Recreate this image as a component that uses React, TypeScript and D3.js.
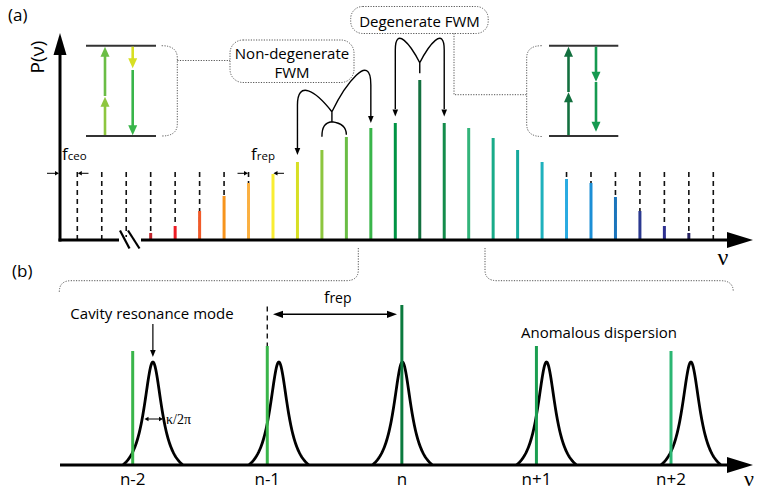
import * as d3 from "d3"

// panel (a): comb lines, index 0..26
const combPower = [0, 0, 0, 7, 14, 29, 44, 57, 66, 78, 90, 103, 112, 117, 160, 117, 112, 102, 90, 78, 61, 57, 43, 29, 14, 7, 0]
const combColors = [
  "none", "none", "none", "#c1272d", "#ed1c24", "#f15a29", "#f7941d", "#fbb040", "#f9ed32",
  "#d7df23", "#8dc63f", "#6abd45", "#39b54a", "#009444", "#13703f", "#138c4b", "#33b47a",
  "#19ab89", "#15a99c", "#1fb1bd", "#29abe2", "#1c8fd6", "#1b75bc", "#2b3990", "#2e3192",
  "#262262", "none",
]
const dashedModes = [0, 1, 2, 3, 4, 5, 6, 7, 20, 21, 22, 23, 24, 25, 26]

// panel (b): resonances around mode n
const modeOffset = [-2, -1, 0, 1, 2]
const modeLabels = ["n-2", "n-1", "n", "n+1", "n+2"]
const resonanceShift = [0.15, 0.086, 0.004, 0.075, 0.148]
const linePower = [114, 119, 160, 119, 114]
const lineColors = ["#39b54a", "#39b54a", "#0b7a3e", "#1a9e50", "#2bb673"]
const resonanceHeight = 103

const W = 757
const H = 491
const font = "'Open Sans', sans-serif"
const nuFont = "'Liberation Serif', serif"

function head(x: number, y: number, dir: string, len = 9, half = 4) {
  let pts: number[][] = []
  if (dir === "up") pts = [[x, y], [x - half, y + len], [x + half, y + len]]
  if (dir === "down") pts = [[x, y], [x - half, y - len], [x + half, y - len]]
  if (dir === "left") pts = [[x, y], [x + len, y - half], [x + len, y + half]]
  if (dir === "right") pts = [[x, y], [x - len, y - half], [x - len, y + half]]
  return pts.map((p) => p.join(",")).join(" ")
}

function VArrow({ x, y0, y1, color, w = 2.6 }: { x: number; y0: number; y1: number; color: string; w?: number }) {
  // arrow from y0 to y1 with head at y1
  const dir = y1 < y0 ? "up" : "down"
  const base = dir === "up" ? y1 + 9 : y1 - 9
  return (
    <g>
      <line x1={x} x2={x} y1={y0} y2={base} stroke={color} strokeWidth={w} />
      <polygon points={head(x, y1, dir, 10, 4.5)} fill={color} />
    </g>
  )
}

export default function App() {
  const x = d3.scaleLinear().domain([0, 26]).range([77.3, 713.3])
  const y = d3.scaleLinear().domain([0, 160]).range([240, 80])
  const dashTop = 172

  const xb = d3.scaleLinear().domain([-2, 2]).range([132.7, 671])
  const yb = d3.scaleLinear().domain([0, 160]).range([465, 305])

  // Lorentzian resonance profile, clipped to baseline
  const gamma = 0.082
  const halfBase = 0.223
  const L = (u: number) => 1 / (1 + (u / gamma) ** 2)
  const L0 = L(halfBase)
  const profile = d3.range(-halfBase, halfBase + 0.0001, 0.004)
  const line = d3.line<number[]>().x((d) => d[0]).y((d) => d[1])

  const dotted = { fill: "none", stroke: "#555", strokeWidth: 1, strokeDasharray: "1.2,1.4" }

  // FWM curves (non-degenerate)
  const nd = d3.path()
  const jx = x(10) + 10
  const jy = 111.7
  nd.moveTo(jx, jy)
  nd.bezierCurveTo(jx - 17, 90, x(9), 80, x(9), 105)
  nd.lineTo(x(9), y(combPower[9]) - 11)
  nd.moveTo(jx, jy)
  nd.bezierCurveTo(jx + 13, 85, x(12), 50, x(12), 85)
  nd.lineTo(x(12), y(combPower[12]) - 12)
  nd.moveTo(jx, jy)
  nd.lineTo(jx, jy + 10)
  nd.bezierCurveTo(jx - 7, jy + 11, x(10), jy + 15, x(10), jy + 25)
  nd.moveTo(jx, jy + 10)
  nd.bezierCurveTo(jx + 8, jy + 11, x(11), jy + 14, x(11), jy + 23)

  const dg = d3.path()
  const dx = x(14)
  const dy = 62.7
  dg.moveTo(dx, dy)
  dg.bezierCurveTo(dx - 9, 45, x(13), 25, x(13), 50)
  dg.lineTo(x(13), y(combPower[13]) - 14)
  dg.moveTo(dx, dy)
  dg.bezierCurveTo(dx + 9, 45, x(15), 25, x(15), 50)
  dg.lineTo(x(15), y(combPower[15]) - 14)
  dg.moveTo(dx, dy)
  dg.lineTo(dx, 73.3)

  return (
    <svg width={W} height={H} style={{ position: "absolute", left: 0, top: 0 }} fontFamily={font}>
      <rect width={W} height={H} fill="#fff" />

      {/* ---------- panel (a) ---------- */}
      <text x={8} y={21} fontSize={17}>(a)</text>
      <text transform="translate(44,57) rotate(-90)" textAnchor="middle" fontSize={19}>P(ν)</text>

      {/* dashed guides */}
      {dashedModes.map((i) => (
        <line key={"d" + i} x1={x(i)} x2={x(i)} y1={dashTop} y2={240} stroke="#111" strokeWidth={1.6} strokeDasharray="5,4" />
      ))}
      {/* comb lines */}
      {combPower.map((p, i) =>
        p > 0 ? <line key={"c" + i} x1={x(i)} x2={x(i)} y1={y(p)} y2={240} stroke={combColors[i]} strokeWidth={3} /> : null
      )}

      {/* axes */}
      <line x1={60} x2={60} y1={241.5} y2={52} stroke="#000" strokeWidth={3} />
      <polygon points={head(60, 33, "up", 22, 6.5)} fill="#000" />
      <line x1={58.5} x2={732} y1={240} y2={240} stroke="#000" strokeWidth={3} />
      <polygon points={head(753, 240, "right", 26, 8)} fill="#000" />
      <rect x={119} y={237} width={22} height={6} fill="#fff" />
      <line x1={120} x2={129.5} y1={230.5} y2={248.5} stroke="#000" strokeWidth={2.2} />
      <line x1={128} x2={139.5} y1={230.5} y2={248.5} stroke="#000" strokeWidth={2.2} />
      <text x={723} y={265} textAnchor="middle" fontSize={24} fontFamily={nuFont}>ν</text>

      {/* f_ceo and f_rep */}
      <line x1={47} x2={55} y1={173.3} y2={173.3} stroke="#000" strokeWidth={1} />
      <polygon points={head(59, 173.3, "right", 4, 2.2)} fill="#000" />
      <line x1={x(0) + 4} x2={88.5} y1={173.3} y2={173.3} stroke="#000" strokeWidth={1} />
      <polygon points={head(x(0) + 0.5, 173.3, "left", 4, 2.2)} fill="#000" />
      <text x={62} y={160} fontSize={17}>f<tspan fontSize={11.5}>ceo</tspan></text>

      <line x1={x(7) - 11} x2={x(7) - 4} y1={173.3} y2={173.3} stroke="#000" strokeWidth={1} />
      <polygon points={head(x(7) - 0.5, 173.3, "right", 4, 2.2)} fill="#000" />
      <line x1={x(8) + 4} x2={x(8) + 11} y1={173.3} y2={173.3} stroke="#000" strokeWidth={1} />
      <polygon points={head(x(8) + 0.5, 173.3, "left", 4, 2.2)} fill="#000" />
      <text x={251} y={160} fontSize={17}>f<tspan fontSize={11.5}>rep</tspan></text>

      {/* left energy diagram */}
      <line x1={86} x2={156} y1={45.7} y2={45.7} stroke="#333" strokeWidth={2} />
      <line x1={86} x2={156} y1={136} y2={136} stroke="#333" strokeWidth={2} />
      <VArrow x={105} y0={135} y1={96.7} color="#8dc63f" />
      <VArrow x={105} y0={96} y1={46.7} color="#6abd45" />
      <VArrow x={132.7} y0={46.7} y1={68.3} color="#d7df23" />
      <VArrow x={132.7} y0={70} y1={135.3} color="#39b54a" />
      <path d="M161.7,45.7 Q177.3,45.7 177.3,58 L177.3,124 Q177.3,136 161.7,136" {...dotted} />
      <path d="M177.3,60.5 L230,60.5" {...dotted} />

      {/* right energy diagram */}
      <line x1={549} x2={618.3} y1={45.7} y2={45.7} stroke="#333" strokeWidth={2} />
      <line x1={549} x2={618.3} y1={136} y2={136} stroke="#333" strokeWidth={2} />
      <VArrow x={568.5} y0={135} y1={92.3} color="#13703f" />
      <VArrow x={568.5} y0={92} y1={46.7} color="#13703f" />
      <VArrow x={596} y0={46.7} y1={81.7} color="#159a50" />
      <VArrow x={596} y0={82} y1={131.7} color="#159a50" />
      <path d="M541.7,45.7 Q526.7,45.7 526.7,58 L526.7,124 Q526.7,136.5 541.7,136.5" {...dotted} />
      <path d="M454,33.3 L454,94.7 L526.7,94.7" {...dotted} />

      {/* FWM boxes */}
      <rect x={230} y={40} width={124} height={42.5} rx={13} {...dotted} />
      <text x={292} y={59} textAnchor="middle" fontSize={15}>Non-degenerate</text>
      <text x={292} y={78} textAnchor="middle" fontSize={15}>FWM</text>
      <rect x={350.7} y={6.5} width={137.5} height={27} rx={12} {...dotted} />
      <text x={419.5} y={26.5} textAnchor="middle" fontSize={15}>Degenerate FWM</text>

      {/* FWM curves */}
      <path d={nd.toString()} fill="none" stroke="#000" strokeWidth={1.4} />
      <polygon points={head(x(9), y(combPower[9]) - 7, "down", 7, 2.8)} fill="#000" />
      <polygon points={head(x(12), y(combPower[12]) - 5, "down", 7, 2.8)} fill="#000" />
      <path d={dg.toString()} fill="none" stroke="#000" strokeWidth={1.4} />
      <polygon points={head(x(13), y(combPower[13]) - 6.5, "down", 7, 2.8)} fill="#000" />
      <polygon points={head(x(15), y(combPower[15]) - 6.5, "down", 7, 2.8)} fill="#000" />

      {/* brackets to panel (b) */}
      <path d="M358.3,248 L358.3,270 Q358.3,280.7 346,280.7 L71,280.7 Q59.3,280.7 59.3,292" {...dotted} />
      <path d="M485,248 L485,270 Q485,280.7 497,280.7 L721,280.7 Q733.3,280.7 733.3,292" {...dotted} />

      {/* ---------- panel (b) ---------- */}
      <text x={12} y={277} fontSize={17}>(b)</text>

      {/* dashed guide at n-1 */}
      <line x1={xb(-1)} x2={xb(-1)} y1={yb(160) + 1.5} y2={yb(linePower[1])} stroke="#111" strokeWidth={1.4} strokeDasharray="5,4" />

      {modeOffset.map((m, k) => {
        const c = m + resonanceShift[k]
        const pts = profile.map((u) => [xb(c + u), yb(((L(u) - L0) / (1 - L0)) * resonanceHeight)])
        return <path key={"r" + k} d={line(pts) || ""} fill="none" stroke="#000" strokeWidth={2.8} strokeLinejoin="round" />
      })}
      {modeOffset.map((m, k) => (
        <line key={"g" + k} x1={xb(m)} x2={xb(m)} y1={yb(linePower[k])} y2={465} stroke={lineColors[k]} strokeWidth={3} />
      ))}

      <line x1={60} x2={730} y1={465} y2={465} stroke="#000" strokeWidth={3} />
      <polygon points={head(753, 465, "right", 26, 8)} fill="#000" />
      <text x={744} y={486} fontSize={22} fontFamily={nuFont}>ν</text>

      {modeOffset.map((m, k) => (
        <text key={"l" + k} x={xb(m)} y={485} textAnchor="middle" fontSize={17}>{modeLabels[k]}</text>
      ))}

      {/* annotations */}
      <text x={152} y={319} textAnchor="middle" fontSize={15}>Cavity resonance mode</text>
      <line x1={xb(-2 + resonanceShift[0])} x2={xb(-2 + resonanceShift[0])} y1={324} y2={350} stroke="#000" strokeWidth={1.2} />
      <polygon points={head(xb(-2 + resonanceShift[0]), 357, "down", 7, 2.8)} fill="#000" />

      <line x1={148} x2={159} y1={419} y2={419} stroke="#000" strokeWidth={1} />
      <polygon points={head(144.5, 419, "left", 4, 2.2)} fill="#000" />
      <polygon points={head(163, 419, "right", 4, 2.2)} fill="#000" />
      <text x={166} y={424} fontSize={14} fontFamily="'Liberation Serif', serif">κ/2π</text>

      <line x1={282} x2={388} y1={314.3} y2={314.3} stroke="#000" strokeWidth={1.4} />
      <polygon points={head(273, 314.3, "left", 10, 3.6)} fill="#000" />
      <polygon points={head(397, 314.3, "right", 10, 3.6)} fill="#000" />
      <text x={324} y={303} fontSize={16}>f<tspan fontSize={14}>rep</tspan></text>

      <text x={599} y={337.5} textAnchor="middle" fontSize={15}>Anomalous dispersion</text>
    </svg>
  )
}
